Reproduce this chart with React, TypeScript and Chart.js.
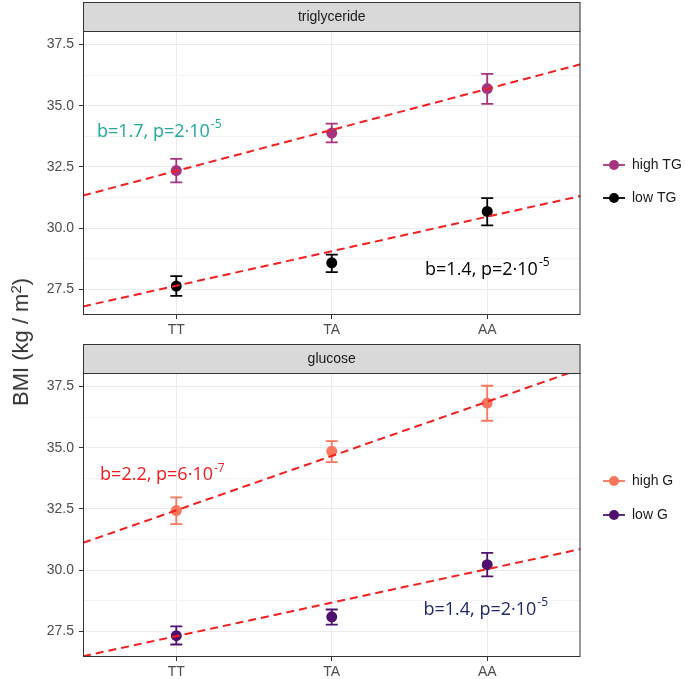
import React, { useEffect, useRef } from "react";
import { Chart, registerables } from "chart.js";

Chart.register(...registerables);

// ---------- data ----------
const categories = ["TT", "TA", "AA"];
const catPositions = [1, 2, 3];
const yMajorTicks = [27.5, 30, 32.5, 35, 37.5];
const yMinorTicks = [28.75, 31.25, 33.75, 36.25];
const trendX = [0.4, 3.6];

// triglyceride panel
const highTGMean = [32.35, 33.88, 35.7];
const highTGLower = [31.87, 33.5, 35.07];
const highTGUpper = [32.83, 34.27, 36.3];
const lowTGMean = [27.63, 28.58, 30.68];
const lowTGLower = [27.23, 28.2, 30.11];
const lowTGUpper = [28.04, 28.92, 31.22];
const highTGTrend = [31.33, 36.69];
const lowTGTrend = [26.8, 31.31];

// glucose panel
const highGMean = [32.43, 34.85, 36.82];
const highGLower = [31.88, 34.41, 36.1];
const highGUpper = [32.97, 35.27, 37.53];
const lowGMean = [27.32, 28.09, 30.22];
const lowGLower = [26.96, 27.77, 29.74];
const lowGUpper = [27.7, 28.39, 30.7];
const highGTrend = [31.11, 38.21];
const lowGTrend = [26.48, 30.86];

const stripTitles = ["triglyceride", "glucose"];
const legendTop = ["high TG", "low TG"];
const legendBottom = ["high G", "low G"];
const annotTextTop = [
  ["b=1.7, p=2\u00b710", "-5"],
  ["b=1.4, p=2\u00b710", "-5"],
];
const annotTextBottom = [
  ["b=2.2, p=6\u00b710", "-7"],
  ["b=1.4, p=2\u00b710", "-5"],
];

// ---------- styling ----------
const SANS = '"Liberation Sans", Arial, sans-serif';
const ANNOT_FONT = '"Open Sans", "Noto Sans", sans-serif';
const TREND_COLOR = "#f31e1e";
const Y_MIN = 26.45;
const Y_MAX = 38.05;

type Series = {
  label: string;
  color: string;
  mean: number[];
  lower: number[];
  upper: number[];
};

type PanelCfg = {
  height: number;
  top: number;
  stripTop: number;
  panelTop: number;
  panelBottom: number;
  title: string;
  series: Series[];
  trends: number[][];
  legendY: number[];
  annots: { text: string[]; x: number; y: number; color: string }[];
};

const panels: PanelCfg[] = [
  {
    height: 340,
    top: 0,
    stripTop: 2,
    panelTop: 31,
    panelBottom: 315,
    title: stripTitles[0],
    series: [
      { label: legendTop[0], color: "#a8327d", mean: highTGMean, lower: highTGLower, upper: highTGUpper },
      { label: legendTop[1], color: "#000000", mean: lowTGMean, lower: lowTGLower, upper: lowTGUpper },
    ],
    trends: [highTGTrend, lowTGTrend],
    legendY: [165, 198],
    annots: [
      { text: annotTextTop[0], x: 0.49, y: 33.95, color: "#1fa89b" },
      { text: annotTextTop[1], x: 2.6, y: 28.3, color: "#000000" },
    ],
  },
  {
    height: 339,
    top: 340,
    stripTop: 4,
    panelTop: 33,
    panelBottom: 317,
    title: stripTitles[1],
    series: [
      { label: legendBottom[0], color: "#f8765c", mean: highGMean, lower: highGLower, upper: highGUpper },
      { label: legendBottom[1], color: "#4f1170", mean: lowGMean, lower: lowGLower, upper: lowGUpper },
    ],
    trends: [highGTrend, lowGTrend],
    legendY: [141, 175],
    annots: [
      { text: annotTextBottom[0], x: 0.51, y: 33.87, color: "#ee1c1c" },
      { text: annotTextBottom[1], x: 2.59, y: 28.39, color: "#1c2a6b" },
    ],
  },
];

const isMajor = (v: number) => yMajorTicks.some((t) => Math.abs(t - v) < 1e-6);

function makePlugin(p: PanelCfg) {
  return {
    id: "panelDecor",
    beforeDraw(chart: any) {
      const { ctx, chartArea: a } = chart;
      ctx.save();
      ctx.fillStyle = "#ffffff";
      ctx.fillRect(0, 0, chart.width, chart.height);
      // strip
      ctx.fillStyle = "#d9d9d9";
      ctx.fillRect(a.left, p.stripTop, a.right - a.left, a.top - p.stripTop);
      ctx.strokeStyle = "#333333";
      ctx.lineWidth = 1;
      ctx.strokeRect(a.left + 0.5, p.stripTop + 0.5, a.right - a.left - 1, a.top - p.stripTop);
      ctx.fillStyle = "#1a1a1a";
      ctx.font = `14px ${SANS}`;
      ctx.textAlign = "center";
      ctx.textBaseline = "middle";
      ctx.fillText(p.title, (a.left + a.right) / 2, (p.stripTop + a.top) / 2 + 1);
      ctx.restore();
    },
    beforeDatasetsDraw(chart: any) {
      const { ctx } = chart;
      const xs = chart.scales.x;
      const ys = chart.scales.y;
      ctx.save();
      ctx.lineWidth = 1.8;
      p.series.forEach((s) => {
        ctx.strokeStyle = s.color;
        s.mean.forEach((_, i) => {
          const x = xs.getPixelForValue(catPositions[i]);
          const yl = ys.getPixelForValue(s.lower[i]);
          const yu = ys.getPixelForValue(s.upper[i]);
          ctx.beginPath();
          ctx.moveTo(x, yl);
          ctx.lineTo(x, yu);
          ctx.moveTo(x - 6, yl);
          ctx.lineTo(x + 6, yl);
          ctx.moveTo(x - 6, yu);
          ctx.lineTo(x + 6, yu);
          ctx.stroke();
        });
      });
      ctx.restore();
    },
    afterDraw(chart: any) {
      const { ctx, chartArea: a } = chart;
      const xs = chart.scales.x;
      const ys = chart.scales.y;
      ctx.save();
      // panel border
      ctx.strokeStyle = "#333333";
      ctx.lineWidth = 1;
      ctx.strokeRect(a.left + 0.5, a.top + 0.5, a.right - a.left - 1, a.bottom - a.top - 1);
      // annotations
      p.annots.forEach((an) => {
        const x = xs.getPixelForValue(an.x);
        const y = ys.getPixelForValue(an.y);
        ctx.fillStyle = an.color;
        ctx.textAlign = "left";
        ctx.textBaseline = "middle";
        ctx.font = `18px ${ANNOT_FONT}`;
        ctx.fillText(an.text[0], x, y);
        const w = ctx.measureText(an.text[0]).width;
        ctx.font = `12px ${ANNOT_FONT}`;
        ctx.fillText(an.text[1], x + w + 1, y - 7);
      });
      // legend
      p.series.forEach((s, i) => {
        const y = p.legendY[i];
        ctx.strokeStyle = s.color;
        ctx.lineWidth = 1.8;
        ctx.beginPath();
        ctx.moveTo(603, y);
        ctx.lineTo(625, y);
        ctx.stroke();
        ctx.fillStyle = s.color;
        ctx.beginPath();
        ctx.arc(614, y, 5, 0, Math.PI * 2);
        ctx.fill();
        ctx.fillStyle = "#1a1a1a";
        ctx.font = `14px ${SANS}`;
        ctx.textAlign = "left";
        ctx.textBaseline = "middle";
        ctx.fillText(s.label, 632, y + 0.5);
      });
      ctx.restore();
    },
  };
}

function Panel({ cfg }: { cfg: PanelCfg }) {
  const ref = useRef<HTMLCanvasElement | null>(null);
  useEffect(() => {
    if (!ref.current) return;
    const datasets: any[] = [];
    cfg.trends.forEach((t) => {
      datasets.push({
        type: "line",
        data: trendX.map((x, i) => ({ x, y: t[i] })),
        borderColor: TREND_COLOR,
        borderWidth: 2,
        borderDash: [8, 5],
        pointRadius: 0,
        showLine: true,
        fill: false,
        order: 0,
        clip: 0,
      });
    });
    cfg.series.forEach((s) => {
      datasets.push({
        type: "scatter",
        label: s.label,
        data: s.mean.map((y, i) => ({ x: catPositions[i], y })),
        backgroundColor: s.color,
        borderColor: s.color,
        borderWidth: 0,
        pointRadius: 5.5,
        order: 1,
      });
    });
    const chart = new Chart(ref.current, {
      type: "scatter",
      data: { datasets },
      options: {
        animation: false,
        responsive: false,
        events: [],
        layout: { padding: { top: cfg.panelTop, left: 0, right: 685 - 580.5, bottom: 0 } },
        plugins: { legend: { display: false }, tooltip: { enabled: false } },
        scales: {
          x: {
            type: "linear",
            min: 0.4,
            max: 3.6,
            afterBuildTicks: (s: any) => {
              s.ticks = catPositions.map((v) => ({ value: v }));
            },
            afterFit: (s: any) => {
              s.height = cfg.height - cfg.panelBottom;
            },
            ticks: {
              autoSkip: false,
              maxRotation: 0,
              padding: 3,
              color: "#4d4d4d",
              font: { family: SANS, size: 14 },
              callback: (_v: any, i: number) => categories[i],
            },
            grid: { color: "#ebebeb", lineWidth: 1, tickLength: 4, tickColor: "#333333" },
            border: { display: false },
          },
          y: {
            type: "linear",
            min: Y_MIN,
            max: Y_MAX,
            afterBuildTicks: (s: any) => {
              s.ticks = [...yMajorTicks, ...yMinorTicks].sort((a, b) => a - b).map((v) => ({ value: v }));
            },
            afterFit: (s: any) => {
              s.width = 83;
            },
            ticks: {
              autoSkip: false,
              padding: 5,
              color: "#4d4d4d",
              font: { family: SANS, size: 14 },
              callback: (v: any) => (isMajor(v) ? Number(v).toFixed(1) : ""),
            },
            grid: {
              color: (c: any) => (c.tick && isMajor(c.tick.value) ? "#ebebeb" : "#f3f3f3"),
              lineWidth: 1,
              tickLength: 4,
              tickColor: (c: any) => (c.tick && isMajor(c.tick.value) ? "#333333" : "rgba(0,0,0,0)"),
            },
            border: { display: false },
          },
        },
      } as any,
      plugins: [makePlugin(cfg) as any],
    });
    return () => chart.destroy();
  }, [cfg]);
  return (
    <canvas
      ref={ref}
      width={685}
      height={cfg.height}
      style={{ position: "absolute", left: 0, top: cfg.top, width: 685, height: cfg.height, display: "block" }}
    />
  );
}

export default function App() {
  return (
    <div style={{ position: "absolute", left: 0, top: 0, width: 685, height: 679, background: "#fff", overflow: "hidden" }}>
      {panels.map((p, i) => (
        <Panel key={i} cfg={p} />
      ))}
      <div
        style={{
          position: "absolute",
          left: 21,
          top: 342,
          transform: "translate(-50%, -50%) rotate(-90deg)",
          whiteSpace: "nowrap",
          fontFamily: SANS,
          fontSize: 22,
          color: "#333333",
          lineHeight: 1,
        }}
      >
        BMI (kg / m<sup style={{ fontSize: 15, verticalAlign: "0.5em", lineHeight: 0 }}>2</sup>)
      </div>
    </div>
  );
}
